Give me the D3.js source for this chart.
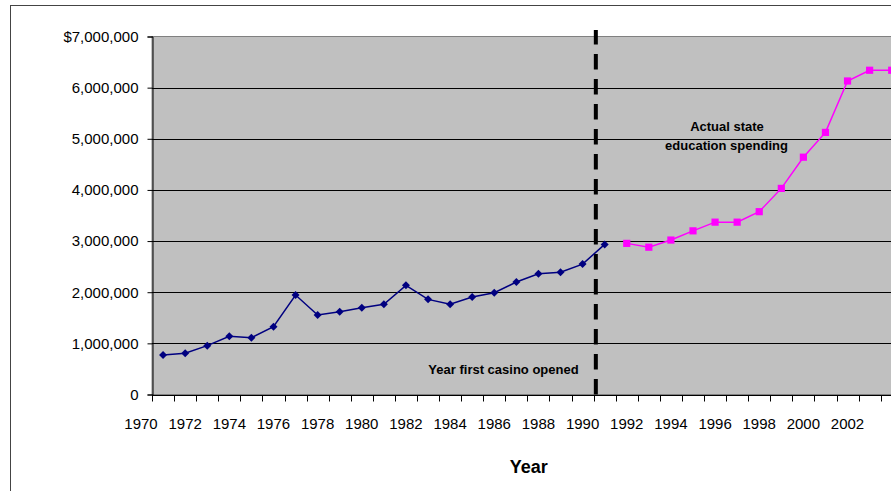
<!DOCTYPE html>
<html>
<head>
<meta charset="utf-8">
<script src="https://cdn.jsdelivr.net/npm/d3@7/dist/d3.min.js"></script>
<style>
  html, body { margin: 0; padding: 0; background: #fff; }
  svg { display: block; font-family: Arial, "Liberation Sans", sans-serif; }
</style>
</head>
<body>
<svg id="chart" width="891" height="491"></svg>
<script>
// Education spending before the first casino opened (navy)
const yearsBefore = [1971, 1972, 1973, 1974, 1975, 1976, 1977, 1978, 1979, 1980,
                     1981, 1982, 1983, 1984, 1985, 1986, 1987, 1988, 1989, 1990, 1991];
const spendingBefore = [770000, 805000, 955000, 1140000, 1110000, 1325000, 1945000,
                        1555000, 1620000, 1695000, 1765000, 2135000, 1860000, 1765000,
                        1905000, 1990000, 2200000, 2360000, 2390000, 2550000, 2935000];

// Actual state education spending after the casino opened (magenta)
const yearsAfter = [1992, 1993, 1994, 1995, 1996, 1997, 1998, 1999, 2000, 2001, 2002, 2003, 2004];
const spendingAfter = [2955000, 2880000, 3020000, 3200000, 3370000, 3370000, 3575000,
                       4030000, 4640000, 5125000, 6130000, 6340000, 6340000];

const yTickValues = [0, 1000000, 2000000, 3000000, 4000000, 5000000, 6000000, 7000000];
const xTickLabels = [1970, 1972, 1974, 1976, 1978, 1980, 1982, 1984, 1986, 1988,
                     1990, 1992, 1994, 1996, 1998, 2000, 2002];
const casinoYear = 1990.6;

const svg = d3.select("#chart");

const x = d3.scaleLinear().domain([1970, 2004]).range([141, 891.7]);
const y = d3.scaleLinear().domain([0, 7000000]).range([394.5, 36.5]);

// Outer chart frame
svg.append("rect")
  .attr("x", 10.5).attr("y", 5.5)
  .attr("width", 1000).attr("height", 1000)
  .attr("fill", "#fff").attr("stroke", "#444").attr("stroke-width", 1);

// Plot area
const plotLeft = x(1970.5);
svg.append("rect")
  .attr("x", plotLeft).attr("y", y(7000000))
  .attr("width", 1000).attr("height", y(0) - y(7000000))
  .attr("fill", "#c0c0c0").attr("stroke", "#808080").attr("stroke-width", 1);

// Gridlines
svg.append("g")
  .selectAll("line")
  .data(yTickValues.slice(1, -1))
  .join("line")
  .attr("x1", plotLeft).attr("x2", 900)
  .attr("y1", d => Math.round(y(d)) + 0.5).attr("y2", d => Math.round(y(d)) + 0.5)
  .attr("stroke", "#000").attr("stroke-width", 1);

// Y axis
const yAxis = svg.append("g")
  .attr("transform", `translate(${Math.round(plotLeft) + 0.5},0)`)
  .call(d3.axisLeft(y)
    .tickValues(yTickValues)
    .tickSize(5)
    .tickPadding(9)
    .tickFormat(d => d === 7000000 ? "$" + d3.format(",")(d) : d3.format(",")(d)));
yAxis.select(".domain").attr("stroke", "#000");
yAxis.selectAll(".tick line").attr("stroke", "#000");
yAxis.selectAll(".tick text")
  .attr("font-size", 15).attr("fill", "#000")
  .attr("font-family", "Arial, 'Liberation Sans', sans-serif");

// X axis: ticks between years, labels on even years
const xTicks = d3.range(1970.5, 2004.6, 1);
const xAxisG = svg.append("g")
  .attr("transform", `translate(0,${Math.round(y(0)) + 0.5})`);
xAxisG.append("line")
  .attr("x1", plotLeft).attr("x2", 900)
  .attr("stroke", "#000");
xAxisG.selectAll(".xtick")
  .data(xTicks)
  .join("line")
  .attr("class", "xtick")
  .attr("x1", d => Math.round(x(d)) + 0.5).attr("x2", d => Math.round(x(d)) + 0.5)
  .attr("y1", 0).attr("y2", 6)
  .attr("stroke", "#000");
xAxisG.selectAll(".xlabel")
  .data(xTickLabels)
  .join("text")
  .attr("class", "xlabel")
  .attr("x", d => x(d))
  .attr("y", 33.5)
  .attr("text-anchor", "middle")
  .attr("font-size", 15)
  .attr("fill", "#000")
  .text(d => d);

// Casino opening marker
svg.append("line")
  .attr("x1", x(casinoYear)).attr("x2", x(casinoYear))
  .attr("y1", y(0)).attr("y2", 30)
  .attr("stroke", "#000").attr("stroke-width", 4)
  .attr("stroke-dasharray", "15.5,9.5");

// Series lines
const line = d3.line().x(d => x(d[0])).y(d => y(d[1]));
const before = yearsBefore.map((yr, i) => [yr, spendingBefore[i]]);
const after = yearsAfter.map((yr, i) => [yr, spendingAfter[i]]);

svg.append("path").datum(before)
  .attr("d", line).attr("fill", "none")
  .attr("stroke", "#000080").attr("stroke-width", 1.5);
svg.append("path").datum(after)
  .attr("d", line).attr("fill", "none")
  .attr("stroke", "#ff00ff").attr("stroke-width", 1.5);

// Diamond markers
svg.append("g").selectAll("path")
  .data(before)
  .join("path")
  .attr("d", d => {
    const cx = x(d[0]), cy = y(d[1]), r = 4;
    return `M${cx},${cy - r}L${cx + r},${cy}L${cx},${cy + r}L${cx - r},${cy}Z`;
  })
  .attr("fill", "#000080");

// Square markers
svg.append("g").selectAll("rect")
  .data(after)
  .join("rect")
  .attr("x", d => x(d[0]) - 3.6).attr("y", d => y(d[1]) - 3.6)
  .attr("width", 7.2).attr("height", 7.2)
  .attr("fill", "#ff00ff");

// Annotations
svg.append("text")
  .attr("x", 503.5).attr("y", 373.5)
  .attr("text-anchor", "middle")
  .attr("font-size", 13).attr("font-weight", "bold").attr("fill", "#000")
  .text("Year first casino opened");

const note = svg.append("text")
  .attr("text-anchor", "middle")
  .attr("font-size", 13).attr("font-weight", "bold").attr("fill", "#000");
note.append("tspan").attr("x", 727).attr("y", 131).text("Actual state");
note.append("tspan").attr("x", 726.5).attr("y", 149.5).text("education spending");

// Axis title
svg.append("text")
  .attr("x", 528.8).attr("y", 473)
  .attr("text-anchor", "middle")
  .attr("font-size", 18).attr("font-weight", "bold").attr("fill", "#000")
  .text("Year");
</script>
</body>
</html>
